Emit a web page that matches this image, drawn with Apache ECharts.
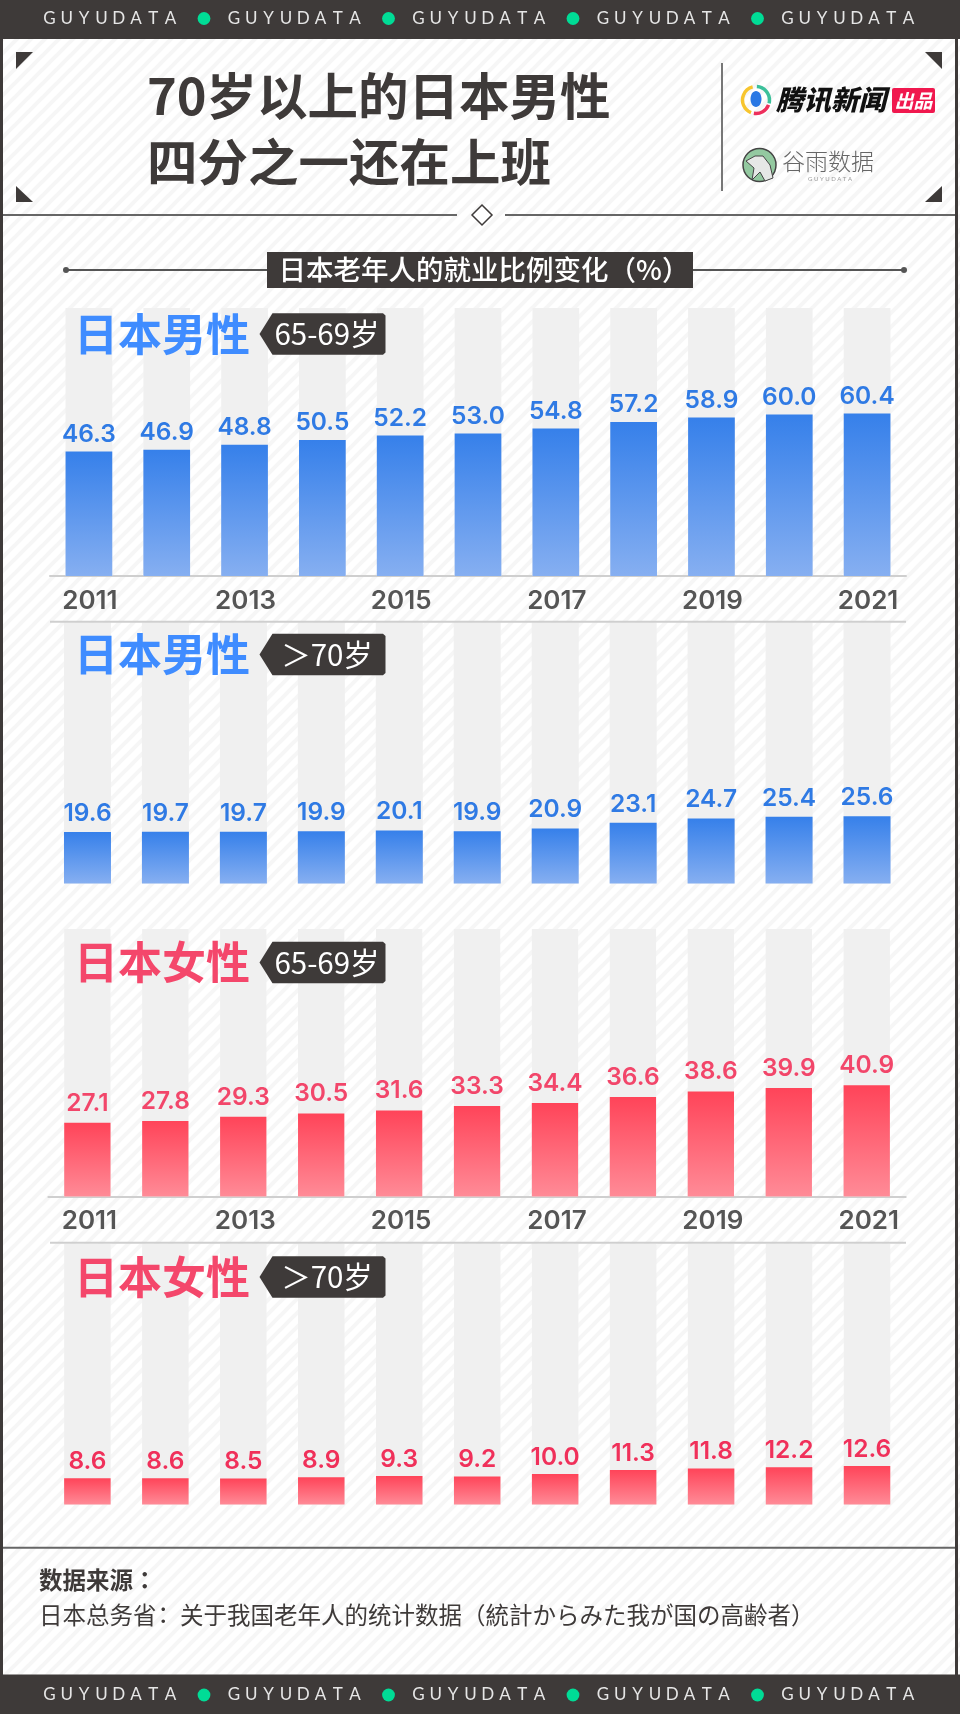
<!DOCTYPE html>
<html lang="zh">
<head>
    <meta charset="UTF-8">
    <title>70岁以上的日本男性四分之一还在上班</title>
    <script src="https://cdn.jsdelivr.net/npm/echarts@6/dist/echarts.min.js"></script>
    <style>
        html, body { margin: 0; padding: 0; background: #fff; }
        #main { width: 960px; height: 1714px; }
    </style>
</head>
<body>
<div id="main"></div>
<script>
    var years = ['2011', '2012', '2013', '2014', '2015', '2016', '2017', '2018', '2019', '2020', '2021'];
    var male6569 = [46.3, 46.9, 48.8, 50.5, 52.2, 53.0, 54.8, 57.2, 58.9, 60.0, 60.4];
    var male70 = [19.6, 19.7, 19.7, 19.9, 20.1, 19.9, 20.9, 23.1, 24.7, 25.4, 25.6];
    var female6569 = [27.1, 27.8, 29.3, 30.5, 31.6, 33.3, 34.4, 36.6, 38.6, 39.9, 40.9];
    var female70 = [8.6, 8.6, 8.5, 8.9, 9.3, 9.2, 10.0, 11.3, 11.8, 12.2, 12.6];

    var DARK = '#3e3a39';
    var CJK = '"Noto Sans CJK SC"';
    var CJK_TC = '"Noto Sans CJK TC"';
    var NUM = 'Inter';
    var BLUE = ['#3680ea', '#86aff1'];
    var RED = ['#ff4459', '#ff8b97'];

    // diagonal stripes behind everything
    var tile = document.createElement('canvas');
    tile.width = 14;
    tile.height = 14;
    var c = tile.getContext('2d');
    c.fillStyle = '#fff';
    c.fillRect(0, 0, 14, 14);
    c.strokeStyle = '#f6f6f6';
    c.lineWidth = 4;
    [[-7, 7, 7, -7], [0, 14, 14, 0], [7, 21, 21, 7]].forEach(function (p) {
        c.beginPath();
        c.moveTo(p[0], p[1]);
        c.lineTo(p[2], p[3]);
        c.stroke();
    });

    var panels = [
        {data: male6569, colors: BLUE, label: '#2f7ae4', top: 308, bottom: 576, left: 50, right: 906, width: 46.7, max: 99.6, gap: 4.5, axis: true, shift: 2},
        {data: male70, colors: BLUE, label: '#2f7ae4', top: 622.5, bottom: 883.5, left: 48.5, right: 906, width: 47, max: 99.2, gap: 6, axis: false, shift: 0},
        {data: female6569, colors: RED, label: '#f2466a', top: 929, bottom: 1196.5, left: 48.4, right: 905.7, width: 46.3, max: 98.4, gap: 7, axis: true, shift: 4},
        {data: female70, colors: RED, label: '#f0305a', top: 1244, bottom: 1504.5, left: 48.4, right: 906, width: 46.5, max: 85.3, gap: 4, axis: false, shift: 0}
    ];

    var grids = [], xAxes = [], yAxes = [], seriesList = [];
    panels.forEach(function (p, i) {
        grids.push({left: p.left, width: p.right - p.left, top: p.top, height: p.bottom - p.top});
        xAxes.push({
            type: 'category',
            gridIndex: i,
            data: years,
            axisTick: {show: false},
            axisLine: {show: p.axis, lineStyle: {color: '#cfcfcf', width: 2}},
            axisLabel: {
                show: p.axis,
                interval: 1,
                margin: 10,
                padding: [2, 0, 0, p.shift],
                color: '#555',
                fontFamily: NUM,
                fontWeight: 600,
                fontSize: 26
            }
        });
        yAxes.push({type: 'value', gridIndex: i, min: 0, max: p.max, show: false});
        seriesList.push({
            type: 'bar',
            xAxisIndex: i,
            yAxisIndex: i,
            data: p.data,
            barWidth: p.width,
            showBackground: true,
            backgroundStyle: {color: '#f0f0f0'},
            itemStyle: {
                color: {
                    type: 'linear', x: 0, y: 0, x2: 0, y2: 1,
                    colorStops: [{offset: 0, color: p.colors[0]}, {offset: 1, color: p.colors[1]}]
                }
            },
            label: {
                show: true,
                position: 'top',
                distance: p.gap,
                color: p.label,
                fontFamily: NUM,
                fontWeight: 600,
                fontSize: 24.5,
                formatter: function (d) { return d.value.toFixed(1); }
            }
        });
    });

    var g = [];
    function text(x, y, str, size, fill, weight, family, align, italic) {
        g.push({
            type: 'text', z: 10, x: x, y: y,
            style: {
                text: str, fill: fill, fontSize: size, fontWeight: weight || 400,
                fontStyle: italic ? 'italic' : 'normal',
                fontFamily: family || CJK, align: align || 'left', verticalAlign: 'middle'
            }
        });
    }
    function rect(x, y, w, h, fill, r, z) {
        g.push({type: 'rect', z: z === undefined ? 9 : z, shape: {x: x, y: y, width: w, height: h, r: r || 0}, style: {fill: fill}});
    }
    function line(x1, y1, x2, y2, color, w) {
        g.push({type: 'line', z: 9, shape: {x1: x1, y1: y1, x2: x2, y2: y2}, style: {stroke: color, lineWidth: w}});
    }
    function poly(points, fill) {
        g.push({type: 'polygon', z: 9, shape: {points: points}, style: {fill: fill}});
    }
    function arc(cx, cy, r, a, b, color, w) {
        g.push({type: 'arc', z: 10, shape: {cx: cx, cy: cy, r: r, startAngle: a, endAngle: b}, style: {stroke: color, lineWidth: w, fill: null}});
    }

    g.push({type: 'rect', z: -1, shape: {x: 0, y: 0, width: 960, height: 1714}, style: {fill: {image: tile, repeat: 'repeat'}}});

    // top and bottom bands with the spaced wordmark
    function band(y, h, textY) {
        rect(0, y, 960, h, DARK);
        var word = 'GUYUDATA';
        for (var n = 0; n < 5; n++) {
            var x0 = 44 + n * 184.5;
            for (var k = 0; k < word.length; k++) {
                text(x0 + 5.5 + k * 17.3, textY, word[k], 17, '#e6e6e6', 400, 'Lato', 'center');
            }
            if (n < 4) {
                g.push({type: 'circle', z: 10, shape: {cx: x0 + 160, cy: textY, r: 6.4}, style: {fill: '#00dc96'}});
            }
        }
    }
    band(0, 39, 18.5);
    band(1674.5, 39.5, 1695);

    // side borders
    rect(0, 39, 3, 1636, DARK);
    rect(955, 39, 3, 1636, DARK);

    // corner triangles
    poly([[16, 52], [33, 52], [16, 69]], DARK);
    poly([[925, 52], [942, 52], [942, 69]], DARK);
    poly([[16, 186], [16, 202], [33, 202]], DARK);
    poly([[942, 186], [942, 202], [925, 202]], DARK);

    // headline
    text(147, 96, '70岁以上的日本男性', 50.5, DARK, 700);
    text(147, 161.5, '四分之一还在上班', 50.5, DARK, 700);
    line(722, 63, 722, 191, '#777', 2);

    // tencent news logo
    arc(756, 100, 13.5, Math.PI * 0.62, Math.PI * 1.42, '#f7c52e', 3.5);
    arc(756, 100, 13.5, Math.PI * 1.52, Math.PI * 2.08, '#3cc09a', 3.5);
    arc(756, 100, 13.5, Math.PI * 0.12, Math.PI * 0.55, '#ee2f5c', 3.5);
    g.push({type: 'ellipse', z: 10, shape: {cx: 756, cy: 99, rx: 5.5, ry: 8}, style: {fill: '#2a78e4'}});
    text(776, 100, '腾讯新闻', 27.5, '#111', 900, CJK, 'left', true);
    rect(892, 88, 43, 25, '#f0184e', 2);
    text(913.5, 100.5, '出品', 19, '#fff', 700, CJK, 'center', true);

    // guyu logo
    g.push({type: 'circle', z: 10, shape: {cx: 759.5, cy: 165, r: 16.5}, style: {fill: '#93c9a0', stroke: '#444', lineWidth: 1.5}});
    g.push({type: 'polygon', z: 10, shape: {points: [[746, 161], [755, 156], [763, 156], [770, 165], [773, 178], [765, 181], [760, 172], [752, 180], [754, 168]]}, style: {fill: '#e6e8e6', stroke: '#444', lineWidth: 1}});
    text(782, 161, '谷雨数据', 23, '#666', 300);
    text(830, 179, 'G U Y U D A T A', 6, '#999', 400, 'Lato', 'center');

    // divider with diamond
    line(3, 215, 457, 215, '#666', 2);
    line(505, 215, 955, 215, '#666', 2);
    g.push({type: 'polygon', z: 9, shape: {points: [[482, 205], [492, 215], [482, 225], [472, 215]]}, style: {fill: '#fff', stroke: DARK, lineWidth: 1.5}});

    // chart heading
    line(66, 270, 904, 270, '#555', 2);
    g.push({type: 'circle', z: 9, shape: {cx: 66, cy: 270, r: 3}, style: {fill: '#555'}});
    g.push({type: 'circle', z: 9, shape: {cx: 904, cy: 270, r: 3}, style: {fill: '#555'}});
    rect(267, 252, 426, 36, DARK);
    text(484, 270, '日本老年人的就业比例变化（%）', 27.5, '#fff', 500, CJK, 'center');

    // separators under the year labels
    line(50, 621.7, 906, 621.7, '#cfcfcf', 2);
    line(50, 1242.7, 906, 1242.7, '#cfcfcf', 2);

    // panel titles with arrow tags
    function tag(y, title, color, age) {
        text(74, y, title, 44, color, 700);
        g.push({
            type: 'polygon', z: 9,
            shape: {points: [[259.5, y], [272.5, y - 20.8], [383, y - 20.8], [385.5, y - 18.5], [385.5, y + 18.5], [383, y + 20.8], [272.5, y + 20.8]]},
            style: {fill: DARK}
        });
        text(327, y, age, 29.5, '#fff', 400, CJK, 'center');
    }
    tag(334, '日本男性', '#3f8cff', '65-69岁');
    tag(654.5, '日本男性', '#3f8cff', '＞70岁');
    tag(962.5, '日本女性', '#f4476b', '65-69岁');
    tag(1277, '日本女性', '#f4476b', '＞70岁');

    // source, colons use the centred form
    line(3, 1547.7, 955, 1547.7, '#666', 2);
    text(39, 1580, '数据来源', 23.5, DARK, 700);
    text(39 + 4 * 23.5, 1580, '：', 23.5, DARK, 700, CJK_TC);
    text(39, 1615, '日本总务省', 23.5, DARK, 400);
    text(34 + 5 * 23.5, 1615, '：', 23.5, DARK, 400, CJK_TC);
    text(39 + 6 * 23.5, 1615, '关于我国老年人的统计数据（統計からみた我が国の高齢者）', 23.5, DARK, 400);

    var mychart = echarts.init(document.getElementById('main'), null, {renderer: 'canvas'});
    mychart.setOption({
        animation: false,
        backgroundColor: '#fff',
        grid: grids,
        xAxis: xAxes,
        yAxis: yAxes,
        series: seriesList,
        graphic: g
    });
</script>
</body>
</html>
